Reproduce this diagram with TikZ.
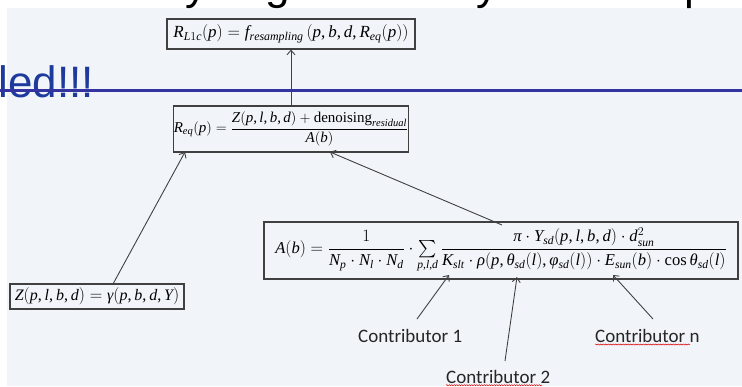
\documentclass[tikz,border=0pt]{standalone}
\usepackage{amsmath}
\usepackage{fontspec}
\setmainfont{Liberation Serif}
\newfontfamily\libserif{Liberation Serif}[NFSSFamily=libserif]
\newfontfamily\arialf{Liberation Sans}
\newfontfamily\calibrif{Carlito}
\DeclareSymbolFont{libit}{TU}{libserif}{m}{it}
\DeclareSymbolFont{libup}{TU}{libserif}{m}{n}
\newcount\mcnt
\mcnt=`a \loop \Umathcode\mcnt="7 \symlibit \mcnt \ifnum\mcnt<`z \advance\mcnt 1 \repeat
\mcnt=`A \loop \Umathcode\mcnt="7 \symlibit \mcnt \ifnum\mcnt<`Z \advance\mcnt 1 \repeat
\mcnt=`0 \loop \Umathcode\mcnt="7 \symlibup \mcnt \ifnum\mcnt<`9 \advance\mcnt 1 \repeat
\Umathcode`(="4 \symlibup `(
\Umathcode`)="5 \symlibup `)
\Umathcode`,="6 \symlibup `,
\Umathcode`=="3 \symlibup `=
\Umathcode`+="2 \symlibup `+
\Umathchardef\mypi="0 \symlibit "03C0
\Umathchardef\myrho="0 \symlibit "03C1
\Umathchardef\mytheta="0 \symlibit "03B8
\Umathchardef\myphi="0 \symlibit "03C6
\Umathchardef\mygamma="0 \symlibit "03B3
\usetikzlibrary{arrows.meta,decorations.pathmorphing}
\definecolor{panel}{RGB}{241,245,250}
\definecolor{boxline}{RGB}{64,64,64}
\definecolor{slideblue}{RGB}{30,58,156}
\definecolor{rulecol}{RGB}{52,52,160}
\tikzset{
  eqbox/.style={draw=boxline, line width=1.2pt, fill=panel, inner sep=0pt, align=center},
  arr/.style={draw=boxline, line width=0.9pt, -{Straight Barb[length=4.5pt,width=8pt]}},
  contrib/.style={font=\calibrif\fontsize{19}{22}\selectfont, anchor=base west, inner sep=0pt, text=black!85},
  spell/.style={draw=red!85!black, line width=0.5pt, decorate, decoration={snake, amplitude=0.6pt, segment length=2.5pt}},
  titlefrag/.style={font=\arialf\fontsize{44}{44}\selectfont, anchor=base west, inner sep=0pt, text=black}
}
\begin{document}
\begin{tikzpicture}[x=1pt,y=-1pt]
\useasboundingbox (0,0) rectangle (742,386);
\fill[white] (0,0) rectangle (742,386);
\fill[panel] (7,8) rectangle (742,386);
% cut-off title line
\begin{scope}
\clip (0,0) rectangle (742,8);
\node[titlefrag] (t1) at (185,-1) {y};
\node[titlefrag] (t2) at (265,-1) {g};
\node[titlefrag] (t3) at (476,-1) {y};
\node[titlefrag] (t4) at (684,-1) {p};
\end{scope}
% cut-off subtitle
\node[font=\arialf\fontsize{44}{44}\selectfont, anchor=base east, inner sep=0pt, text=slideblue] (sub) at (94,97) {led!!!};
\draw[rulecol, line width=2.6pt] (0,90.5) -- (742,90.5);
% boxes
\node[eqbox, minimum width=248pt, minimum height=30pt] (b1) at (291,34)
  {\fontsize{17}{20}\selectfont $R_{L1c}(p) = f_{resampling}\,(p,b,d,R_{eq}(p))$};
\node[eqbox, minimum width=234pt, minimum height=46pt] (b2) at (291,129)
  {\fontsize{15}{18}\selectfont $R_{eq}(p) = \dfrac{Z(p,l,b,d)+\mathrm{denoising}_{residual}}{A(b)}$};
\node[eqbox, minimum width=474pt, minimum height=57pt] (b3) at (501,250.5)
  {\fontsize{16.6}{19}\selectfont $A(b) = \dfrac{1}{N_p\cdot N_l\cdot N_d}\cdot \textstyle\sum\limits_{p,l,d}\dfrac{\mypi\cdot Y_{sd}(p,l,b,d)\cdot d_{sun}^{2}}{K_{slt}\cdot\myrho(p,\mytheta_{sd}(l),\myphi_{sd}(l))\cdot E_{sun}(b)\cdot\cos\mytheta_{sd}(l)}$};
\node[eqbox, minimum width=174pt, minimum height=25pt] (b4) at (97,296.5)
  {\fontsize{16}{19}\selectfont $Z(p,l,b,d) = \mygamma(p,b,d,Y)$};
% contributors
\node[contrib] (c1) at (358,342) {Contributor 1};
\node[contrib] (c2) at (446,383) {Contributor 2};
\node[contrib] (cn) at (595,342) {Contributor n};
\draw[spell] (595,344.5) -- (690,344.5);
\draw[spell] (446,385.2) -- (542,385.2);
% connector end points
\coordinate (a3) at (502,225);
\coordinate (b2a) at (330,152);
\coordinate (b4a) at (113,284);
\coordinate (b2z) at (185,152);
\coordinate (c1t) at (417,319);
\coordinate (c2t) at (505,361);
\coordinate (cnt) at (653,319);
\coordinate (k1) at (449,275);
\coordinate (k2) at (517,277);
\coordinate (kn) at (613,275);
% connectors
\draw[arr] (b2.north) -- (b1.south);
\draw[arr] (a3) -- (b2a);
\draw[arr] (b4a) -- (b2z);
\draw[arr] (c1t) -- (k1);
\draw[arr] (c2t) -- (k2);
\draw[arr] (cnt) -- (kn);
\end{tikzpicture}
\end{document}
